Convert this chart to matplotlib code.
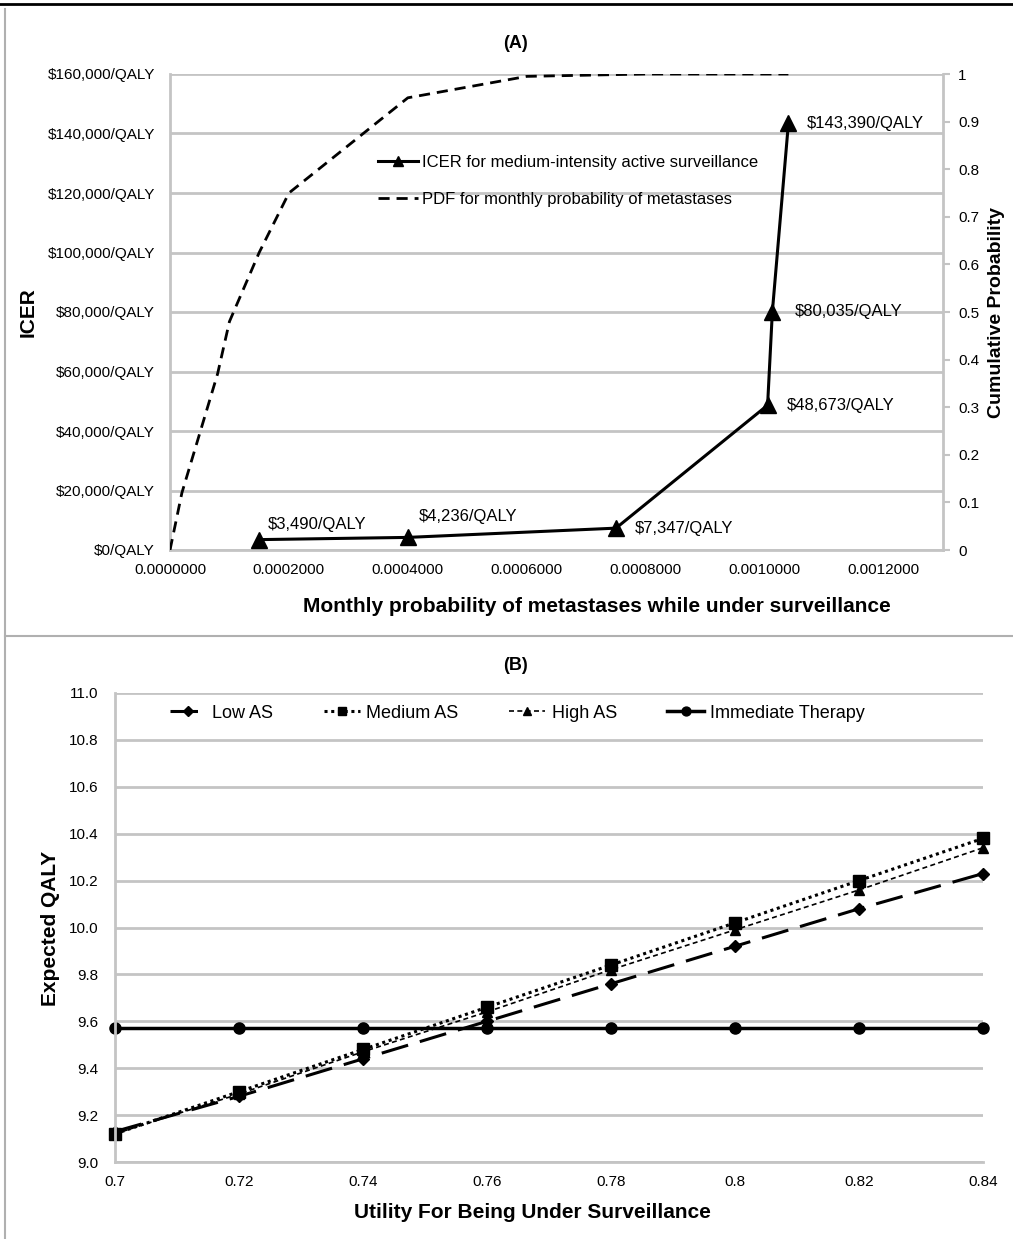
import matplotlib.pyplot as plt
from matplotlib.lines import Line2D
from matplotlib.ticker import FuncFormatter

plt.rcParams['font.family'] = ['Liberation Sans', 'DejaVu Sans']

# panel A data
icer_x = [0.00015, 0.0004, 0.00075, 0.001005, 0.001013, 0.00104]
icer_y = [3490, 4236, 7347, 48673, 80035, 143390]
icer_lbl = ["$3,490/QALY", "$4,236/QALY", "$7,347/QALY",
            "$48,673/QALY", "$80,035/QALY", "$143,390/QALY"]
cdf_x = [0, 0.00002, 0.00005, 0.00008, 0.0001, 0.00015, 0.0002,
         0.0004, 0.0006, 0.0008, 0.00104]
cdf_y = [0, 0.12, 0.245, 0.37, 0.48, 0.625, 0.75, 0.95, 0.995, 1.0, 1.0]

# panel B data
utility = [0.70, 0.72, 0.74, 0.76, 0.78, 0.80, 0.82, 0.84]
low_as = [9.13, 9.28, 9.44, 9.60, 9.76, 9.92, 10.08, 10.23]
med_as = [9.12, 9.30, 9.48, 9.66, 9.84, 10.02, 10.20, 10.38]
high_as = [9.12, 9.29, 9.47, 9.64, 9.82, 9.99, 10.16, 10.34]
immediate = [9.57] * 8

GRID = '#c4c4c4'
W, H = 1013, 1239
fig = plt.figure(figsize=(W / 100, H / 100), dpi=100)


def box(l, t, r, b):
    return [l / W, 1 - b / H, (r - l) / W, (b - t) / H]


# borders
fig.add_artist(Line2D([0, 1], [1 - 4 / H, 1 - 4 / H], color='black', lw=2))
fig.add_artist(Line2D([5 / W, 5 / W], [0, 1 - 9 / H], color='#b0b0b0', lw=1.5))
fig.add_artist(Line2D([5 / W, 1], [1 - 636 / H, 1 - 636 / H], color='#b0b0b0', lw=1.5))

# ---------- panel A ----------
ax = fig.add_axes(box(170, 74, 943, 550))
ax.set_xlim(0, 0.0013)
ax.set_ylim(0, 160000)
ax.set_yticks(range(0, 160001, 20000))
ax.set_xticks([0, 0.0002, 0.0004, 0.0006, 0.0008, 0.0010, 0.0012])
ax.xaxis.set_major_formatter(FuncFormatter(lambda v, p: f"{v:.7f}"))
ax.yaxis.set_major_formatter(FuncFormatter(lambda v, p: f"${int(v):,}/QALY"))
ax.tick_params(axis='both', length=0, labelsize=11)
ax.tick_params(axis='y', pad=11)
ax.tick_params(axis='x', pad=9)
ax.grid(axis='y', color=GRID, lw=2)
ax.set_axisbelow(True)
for s in ['top', 'right']:
    ax.spines[s].set_visible(False)
for s in ['left', 'bottom']:
    ax.spines[s].set_color(GRID)
    ax.spines[s].set_linewidth(2)

h1, = ax.plot(icer_x, icer_y, color='black', lw=2.2, marker='^', ms=11,
              label='ICER for medium-intensity active surveillance', zorder=4)
offs = [(9, 15), (11, 21), (19, 0), (19, 0), (22, 0), (18, 0)]
for xx, yy, t, o in zip(icer_x, icer_y, icer_lbl, offs):
    ax.annotate(t, (xx, yy), xytext=o, textcoords='offset pixels',
                ha='left', va='center', fontsize=12)

ax2 = ax.twinx()
ax2.set_ylim(0, 1)
ax2.set_yticks([i / 10 for i in range(11)])
ax2.yaxis.set_major_formatter(FuncFormatter(lambda v, p: f"{v:g}"))
ax2.tick_params(axis='y', length=5, color=GRID, width=1.5, labelsize=11, pad=6)
for s in ['top', 'left', 'bottom']:
    ax2.spines[s].set_visible(False)
ax2.spines['right'].set_color(GRID)
ax2.spines['right'].set_linewidth(2)
h2, = ax2.plot(cdf_x, cdf_y, color='black', lw=2, ls=(0, (4, 2.5)),
               label='PDF for monthly probability of metastases')

ax.legend([h1, h2], [h1.get_label(), h2.get_label()], frameon=False,
          loc='upper left', bbox_to_anchor=(378 / W, 1 - 155 / H),
          bbox_transform=fig.transFigure, fontsize=12, handlelength=2.4,
          handletextpad=0.25, labelspacing=1.3, borderpad=0,
          borderaxespad=0, markerscale=0.6)

ax.set_xlabel('Monthly probability of metastases while under surveillance',
              fontsize=15, fontweight='bold')
ax.xaxis.set_label_coords((597 - 170) / 773, -(597 - 550) / 476)
ax.set_ylabel('ICER', fontsize=15, fontweight='bold')
ax.yaxis.set_label_coords(-(170 - 38) / 773, 0.5)
ax2.set_ylabel('Cumulative Probability', fontsize=14, fontweight='bold')
ax2.yaxis.set_label_coords(1 + (988 - 943) / 773, 0.5)
fig.text(515 / W, 1 - 44 / H, '(A)', ha='center', va='center',
         fontsize=13, fontweight='bold')

# ---------- panel B ----------
bx = fig.add_axes(box(115, 693, 983, 1162))
bx.set_xlim(0.7, 0.84)
bx.set_ylim(9.0, 11.0)
bx.set_xticks(utility)
bx.set_xticklabels(['0.7', '0.72', '0.74', '0.76', '0.78', '0.8', '0.82', '0.84'])
bx.set_yticks([9.0 + 0.2 * i for i in range(11)])
bx.yaxis.set_major_formatter(FuncFormatter(lambda v, p: f"{v:.1f}"))
bx.tick_params(axis='both', length=0, labelsize=11)
bx.tick_params(axis='x', pad=9)
bx.tick_params(axis='y', pad=12)
bx.grid(axis='y', color=GRID, lw=2)
bx.set_axisbelow(True)
for s in ['top', 'right']:
    bx.spines[s].set_visible(False)
for s in ['left', 'bottom']:
    bx.spines[s].set_color(GRID)
    bx.spines[s].set_linewidth(2)

kw = dict(color='black', clip_on=False)
bx.plot(utility, low_as, lw=2.2, ls=(0, (9, 4)), marker='D', ms=6,
        label='Low AS', **kw)
bx.plot(utility, med_as, lw=2.2, ls=(0, (1, 1.2)), marker='s', ms=8,
        label='Medium AS', **kw)
bx.plot(utility, high_as, lw=1.2, ls=(0, (3, 2)), marker='^', ms=7,
        label='High AS', **kw)
bx.plot(utility, immediate, lw=2.5, marker='o', ms=8,
        label='Immediate Therapy', **kw)

bx.legend(loc='center left', bbox_to_anchor=(170 / W, 1 - 713 / H),
          bbox_transform=fig.transFigure, ncol=4, frameon=False,
          fontsize=13, handlelength=2.0, handletextpad=0.35,
          columnspacing=2.8, borderpad=0, borderaxespad=0, markerscale=0.8)

bx.set_xlabel('Utility For Being Under Surveillance', fontsize=15,
              fontweight='bold')
bx.xaxis.set_label_coords((532 - 115) / 868, -(1203 - 1162) / 469)
bx.set_ylabel('Expected QALY', fontsize=15, fontweight='bold')
bx.yaxis.set_label_coords(-(115 - 60) / 868, (1162 - 928) / 469)
fig.text(515 / W, 1 - 666 / H, '(B)', ha='center', va='center',
         fontsize=13, fontweight='bold')

fig.savefig('out.png', dpi=100)
